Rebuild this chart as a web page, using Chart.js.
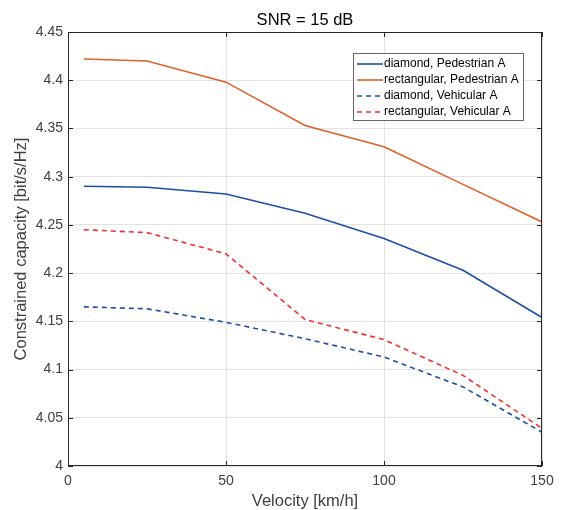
<!DOCTYPE html>
<html>
<head>
<meta charset="utf-8">
<script src="https://cdn.jsdelivr.net/npm/chart.js@4/dist/chart.umd.min.js"></script>
<style>
  html, body { margin: 0; padding: 0; background: #fff; }
  #wrap { width: 562px; height: 510px; }
</style>
</head>
<body>
<div id="wrap"><canvas id="capChart" width="562" height="510"></canvas></div>
<script>
// velocity points [km/h]
const velocity = [5, 25, 50, 75, 100, 125, 150];

// constrained capacity [bit/s/Hz]
const diamondPedA = [4.290, 4.289, 4.282, 4.262, 4.236, 4.203, 4.154];
const rectPedA = [4.422, 4.420, 4.398, 4.353, 4.331, 4.292, 4.253];
const diamondVehA = [4.165, 4.163, 4.149, 4.132, 4.113, 4.082, 4.035];
const rectVehA = [4.245, 4.242, 4.220, 4.152, 4.131, 4.094, 4.039];

const xTicks = [0, 50, 100, 150];
const yTicks = [4, 4.05, 4.1, 4.15, 4.2, 4.25, 4.3, 4.35, 4.4, 4.45];

const FONT = '"Liberation Sans", Arial, sans-serif';
const AXIS_COLOR = '#262626';
const TEXT_COLOR = '#404040';

const toPoints = (ys) => ys.map((y, i) => ({ x: velocity[i], y: y }));

const mkSet = (label, ys, color, dashed) => ({
    label: label,
    data: toPoints(ys),
    borderColor: color,
    backgroundColor: color,
    borderWidth: 1.6,
    borderDash: dashed ? [5, 4] : [],
    pointRadius: 0,
    tension: 0,
    fill: false
});

// title, box, inward ticks and legend, drawn the MATLAB way
const matlabLook = {
    id: 'matlabLook',
    afterDraw(chart) {
        const c = chart.ctx;
        const a = chart.chartArea;
        const xs = chart.scales.x;
        const ys = chart.scales.y;
        c.save();

        // title
        c.fillStyle = '#000';
        c.font = '16.5px ' + FONT;
        c.textAlign = 'center';
        c.textBaseline = 'middle';
        c.fillText('SNR = 15 dB', (a.left + a.right) / 2, 20);

        // box
        c.strokeStyle = AXIS_COLOR;
        c.lineWidth = 1;
        c.strokeRect(a.left + 0.5, a.top + 0.5, a.right - a.left - 1, a.bottom - a.top - 1);

        // inward ticks
        const tl = 5;
        c.beginPath();
        yTicks.forEach(v => {
            const py = Math.round(ys.getPixelForValue(v)) + 0.5;
            c.moveTo(a.left, py); c.lineTo(a.left + tl, py);
            c.moveTo(a.right, py); c.lineTo(a.right - tl, py);
        });
        xTicks.forEach(v => {
            const px = Math.round(xs.getPixelForValue(v)) + 0.5;
            c.moveTo(px, a.bottom); c.lineTo(px, a.bottom - tl);
            c.moveTo(px, a.top); c.lineTo(px, a.top + tl);
        });
        c.stroke();

        // legend
        const lx = 353, ly = 53, lw = 170, lh = 67;
        c.fillStyle = '#fff';
        c.fillRect(lx, ly, lw, lh);
        c.strokeStyle = '#666';
        c.strokeRect(lx + 0.5, ly + 0.5, lw, lh);
        c.font = '12px ' + FONT;
        c.textAlign = 'left';
        chart.data.datasets.forEach((ds, i) => {
            const ry = ly + 11 + i * 16;
            c.strokeStyle = ds.borderColor;
            c.lineWidth = 1.6;
            c.setLineDash(ds.borderDash);
            c.beginPath();
            c.moveTo(lx + 4, ry); c.lineTo(lx + 30, ry);
            c.stroke();
            c.setLineDash([]);
            c.fillStyle = '#000';
            c.fillText(ds.label, lx + 31, ry);
        });
        c.restore();
    }
};

const ctx = document.getElementById('capChart').getContext('2d');
const capChart = new Chart(ctx, {
    type: 'line',
    data: {
        datasets: [
            mkSet('diamond, Pedestrian A', diamondPedA, '#1C4FA3', false),
            mkSet('rectangular, Pedestrian A', rectPedA, '#E0602A', false),
            mkSet('diamond, Vehicular A', diamondVehA, '#1C4FA3', true),
            mkSet('rectangular, Vehicular A', rectVehA, '#F23030', true)
        ]
    },
    options: {
        responsive: false,
        animation: false,
        layout: { padding: { top: 32, right: 20, left: 0, bottom: 0 } },
        plugins: {
            legend: { display: false },
            tooltip: { enabled: false }
        },
        scales: {
            x: {
                type: 'linear',
                min: 0,
                max: 150,
                afterFit: (s) => { s.height = 44; },
                afterBuildTicks: (s) => { s.ticks = xTicks.map(v => ({ value: v })); },
                grid: { color: '#e3e3e3', drawTicks: false },
                border: { display: false },
                ticks: {
                    color: TEXT_COLOR,
                    font: { family: FONT, size: 14 },
                    padding: 7,
                    maxRotation: 0
                },
                title: {
                    display: true,
                    text: 'Velocity [km/h]',
                    color: TEXT_COLOR,
                    font: { family: FONT, size: 16.5 },
                    padding: { top: 0, bottom: -1 }
                }
            },
            y: {
                type: 'linear',
                min: 4,
                max: 4.45,
                afterFit: (s) => { s.width = 68; },
                afterBuildTicks: (s) => { s.ticks = yTicks.map(v => ({ value: v })); },
                grid: { color: '#e3e3e3', drawTicks: false },
                border: { display: false },
                ticks: {
                    color: TEXT_COLOR,
                    font: { family: FONT, size: 14 },
                    padding: 5,
                    callback: (v) => String(+v.toFixed(2))
                },
                title: {
                    display: true,
                    text: 'Constrained capacity [bit/s/Hz]',
                    color: TEXT_COLOR,
                    font: { family: FONT, size: 16.5 },
                    padding: { top: 12, bottom: 0 }
                }
            }
        }
    },
    plugins: [matlabLook]
});
</script>
</body>
</html>
